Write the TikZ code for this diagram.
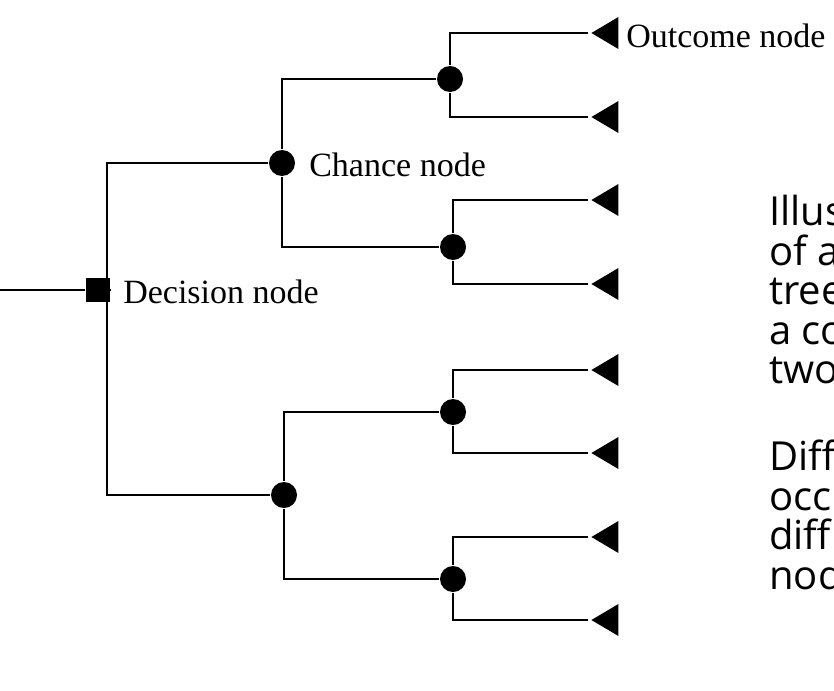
\documentclass[tikz,border=0pt]{standalone}
\usepackage{fontspec}
\setmainfont{Liberation Serif}
\newfontfamily\notefont{Open Sans}
\usepackage{tikz}
\usetikzlibrary{positioning, shapes.geometric}

\begin{document}
\begin{tikzpicture}[x=1pt, y=-1pt, line width=2.6pt,
    chance/.style={circle, fill, inner sep=0pt, minimum size=26pt},
    decision/.style={rectangle, fill, inner sep=0pt, minimum size=24pt},
    outcome/.style={isosceles triangle, shape border rotate=180, fill, inner sep=0pt,
        minimum width=32pt, minimum height=27pt, isosceles triangle stretches},
    lbl/.style={font=\fontsize{34}{36}\selectfont, anchor=west, inner sep=0pt},
    note/.style={font=\notefont\fontsize{40}{39.5}\selectfont, anchor=west, inner sep=0pt}]
    \useasboundingbox (0,0) rectangle (834,690);
    \clip (0,0) rectangle (834,690);

    % Decision and chance nodes
    \coordinate (start) at (0,290);
    \node[decision] (D) at (98,290) {};
    \node[chance] (C1) at (282,163) {};
    \node[chance] (C2) at (284,495) {};
    \node[chance] (C11) at (450,79) {};
    \node[chance] (C12) at (453,247) {};
    \node[chance] (C21) at (453,412) {};
    \node[chance] (C22) at (453,579) {};

    % Outcome nodes
    \foreach \i/\y in {1/33, 2/117, 3/200, 4/284, 5/370, 6/453, 7/537, 8/620}
        \node[outcome, anchor=apex] (O\i) at (588,\y) {};

    % Labels
    \node[lbl] at (625,36) {Outcome node};
    \node[lbl] at (308,165) {Chance node};
    \node[lbl] at (122,292) {Decision node};

    % Branches
    \draw (start) -- (D);
    \draw (D) -- (107,290) |- (C1);
    \draw (107,290) |- (C2);
    \draw (C1) |- (C11);
    \draw (C1) |- (C12);
    \draw (C2) |- (C21);
    \draw (C2) |- (C22);
    \draw (C11) |- (O1.apex);
    \draw (C11) |- (O2.apex);
    \draw (C12) |- (O3.apex);
    \draw (C12) |- (O4.apex);
    \draw (C21) |- (O5.apex);
    \draw (C21) |- (O6.apex);
    \draw (C22) |- (O7.apex);
    \draw (C22) |- (O8.apex);

    % Side note, cut at the right edge
    \node[note, align=left, anchor=north west] (n1) at (768,194) {Illus\\of a\\tree\\a co\\two};
    \node[note, align=left, anchor=north west] (n2) at (768,439) {Diff\\occ\\diff\\nod};
\end{tikzpicture}
\end{document}
